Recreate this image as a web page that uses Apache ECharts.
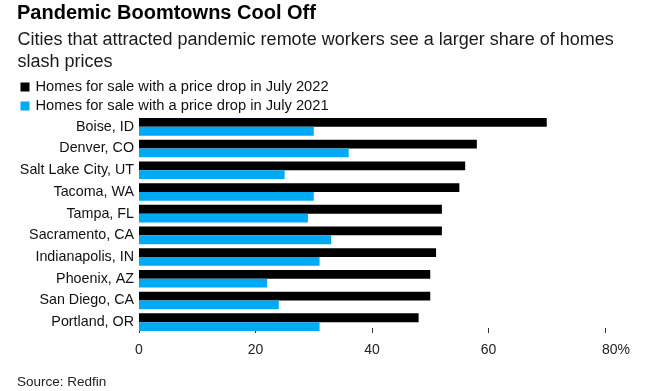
<!DOCTYPE html>
<html><head><meta charset="utf-8">
<script src="https://cdn.jsdelivr.net/npm/echarts@6/dist/echarts.min.js"></script>
<style>html,body{margin:0;padding:0;background:#fff}#c{width:650px;height:391px}</style>
</head><body><div id="c"></div>
<script>
const cities = ["Boise, ID","Denver, CO","Salt Lake City, UT","Tacoma, WA","Tampa, FL","Sacramento, CA","Indianapolis, IN","Phoenix, AZ","San Diego, CA","Portland, OR"];
const july2022 = [70,58,56,55,52,52,51,50,50,48];
const july2021 = [30,36,25,30,29,33,31,22,24,31];
const xTicks = [0,20,40,60,80];
const FONT = '"Liberation Sans", Arial, Helvetica, sans-serif';
const chart = echarts.init(document.getElementById('c'));
chart.setOption({
  animation:false,
  textStyle:{fontFamily:FONT},
  title:[
    {text:'Pandemic Boomtowns Cool Off', left:17, top:3, padding:0, textStyle:{fontFamily:FONT, fontWeight:'bold', fontSize:20, color:'#000'}},
    {text:'Cities that attracted pandemic remote workers see a larger share of homes\nslash prices', left:17.5, top:29, padding:0, textStyle:{fontFamily:FONT, fontWeight:'normal', fontSize:18, lineHeight:22, color:'#1a1a1a'}},
    {text:'Source: Redfin', left:17, top:375, padding:0, textStyle:{fontFamily:FONT, fontWeight:'normal', fontSize:13.5, color:'#222'}}
  ],
  legend:{orient:'vertical', left:20.5, top:79.5, padding:0, itemWidth:9, itemHeight:9, itemGap:4, icon:'rect',
    textStyle:{fontFamily:FONT, fontSize:14.7, lineHeight:14, color:'#111', padding:[0,0,0,1]},
    data:['Homes for sale with a price drop in July 2022','Homes for sale with a price drop in July 2021']},
  grid:{left:139, right:45, top:116, bottom:58},
  xAxis:{type:'value', min:xTicks[0], max:xTicks[xTicks.length-1], interval:20,
    axisLine:{show:false}, splitLine:{show:false},
    axisTick:{show:true, inside:true, length:5, lineStyle:{color:'#333'}},
    axisLabel:{margin:10, fontFamily:FONT, fontSize:14, color:'#222',
      formatter:v=> v===80? '{p|80%}': String(v),
      rich:{p:{fontFamily:FONT, fontSize:14, color:'#222', padding:[0,0,0,22]}}}},
  yAxis:{type:'category', inverse:true, data:cities, axisLine:{show:false}, axisTick:{show:false},
    axisLabel:{margin:5, fontFamily:FONT, fontSize:14.3, color:'#111'}},
  series:[
    {name:'Homes for sale with a price drop in July 2022', type:'bar', data:july2022, itemStyle:{color:'#000'}, barGap:'0%', barCategoryGap:'19%', z:3},
    {name:'Homes for sale with a price drop in July 2021', type:'bar', data:july2021, itemStyle:{color:'#00a9f4'}, barGap:'0%', barCategoryGap:'19%', z:3}
  ]
});
</script></body></html>
